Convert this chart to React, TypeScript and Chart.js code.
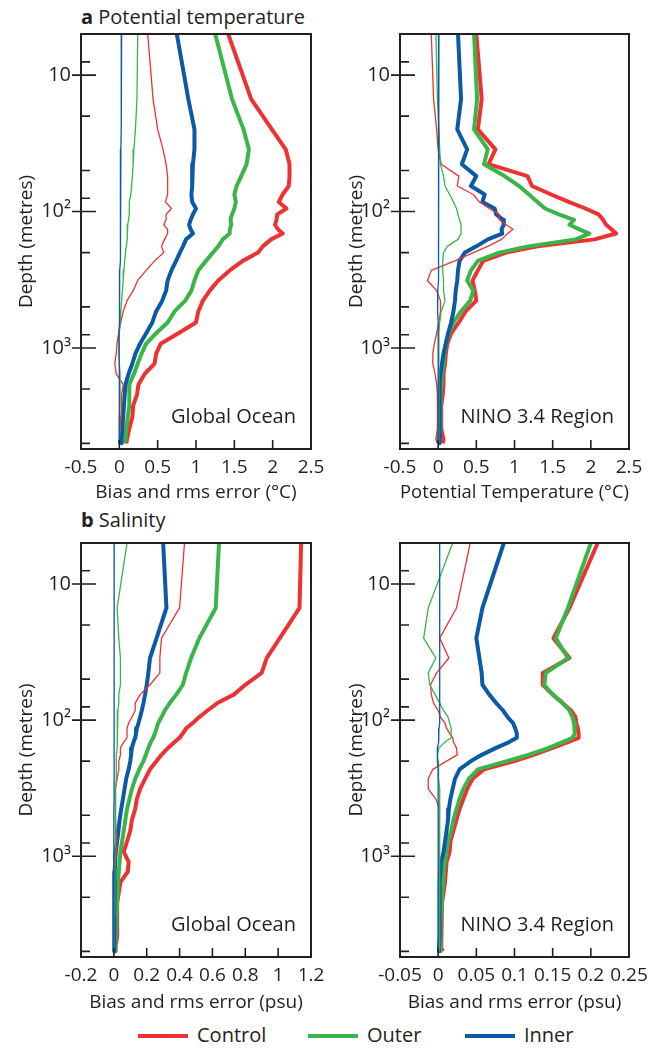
import React, { useEffect, useRef } from 'react';
import { Chart, registerables } from 'chart.js';

Chart.register(...registerables);

const FONT = '"Open Sans", "DejaVu Sans", sans-serif';
const INK = '#231f20';
const RED = '#ee3232';
const GREEN = '#3ab54a';
const BLUE = '#0b5aa6';

// Model depth levels (m) shared by every profile
const depths = [5, 15, 25, 35, 45, 55, 65, 75, 85, 95, 105, 115, 125, 135, 145, 160, 180, 200, 230, 270, 320, 380, 450, 540, 650, 780, 930, 1100, 1300, 1550, 1850, 2200, 2650, 3200, 3900, 4700, 5000];

// Depth axis ticks; only the decades carry a label
const depthTicks = [8, 10, 20, 50, 80, 100, 200, 500, 800, 1000, 2000, 5000];
const depthLabels: Record<number, string> = { 10: '10', 100: '10\u00b2', 1000: '10\u00b3' };

const tempTicks = [-0.5, 0, 0.5, 1, 1.5, 2, 2.5];
const salGlobalTicks = [-0.2, 0, 0.2, 0.4, 0.6, 0.8, 1, 1.2];
const salNinoTicks = [-0.05, 0, 0.05, 0.1, 0.15, 0.2, 0.25];

// (a) Potential temperature, global ocean (°C)
const tempGlobalControlBias = [0.37, 0.44, 0.50, 0.57, 0.61, 0.63, 0.63, 0.63, 0.60, 0.68, 0.61, 0.61, 0.58, 0.63, 0.63, 0.59, 0.55, 0.58, 0.46, 0.35, 0.24, 0.18, 0.10, 0.05, 0.02, -0.01, -0.03, -0.04, -0.06, -0.04, 0.05, 0.03, 0.03, 0.02, 0.01, 0.00, -0.01];
const tempGlobalControlRms = [1.42, 1.72, 1.99, 2.17, 2.22, 2.22, 2.21, 2.13, 2.08, 2.18, 2.06, 2.05, 2.03, 2.07, 2.13, 1.98, 1.87, 1.81, 1.61, 1.44, 1.29, 1.18, 1.09, 1.03, 1.00, 0.77, 0.54, 0.48, 0.46, 0.33, 0.25, 0.23, 0.18, 0.17, 0.13, 0.10, 0.09];
const tempGlobalOuterBias = [0.24, 0.23, 0.21, 0.19, 0.18, 0.17, 0.16, 0.15, 0.13, 0.13, 0.13, 0.12, 0.11, 0.11, 0.10, 0.10, 0.09, 0.08, 0.07, 0.06, 0.05, 0.04, 0.03, 0.02, 0.01, 0.00, 0.00, 0.00, 0.00, 0.01, 0.01, 0.01, 0.01, 0.00, 0.00, 0.00, 0.00];
const tempGlobalOuterRms = [1.25, 1.47, 1.62, 1.69, 1.66, 1.59, 1.53, 1.50, 1.52, 1.50, 1.47, 1.45, 1.46, 1.44, 1.44, 1.35, 1.29, 1.22, 1.13, 1.03, 0.98, 0.94, 0.86, 0.72, 0.63, 0.48, 0.35, 0.29, 0.24, 0.19, 0.13, 0.13, 0.13, 0.11, 0.09, 0.08, 0.06];
const tempGlobalInnerBias = [0.03, 0.025, 0.025, 0.02, 0.02, 0.02, 0.02, 0.02, 0.015, 0.015, 0.015, 0.015, 0.015, 0.01, 0.01, 0.01, 0.01, 0.01, 0.01, 0.005, 0.005, 0.005, 0.0, 0.0, 0.0, -0.005, -0.005, -0.005, 0.0, 0.0, 0.0, 0.0, 0.0, 0.0, 0.0, 0.0, 0.0];
const tempGlobalInnerRms = [0.75, 0.90, 0.98, 0.98, 0.96, 0.95, 0.95, 0.94, 0.95, 1.00, 0.96, 0.93, 0.91, 0.93, 0.96, 0.87, 0.83, 0.79, 0.74, 0.68, 0.63, 0.61, 0.56, 0.48, 0.43, 0.35, 0.27, 0.21, 0.17, 0.12, 0.08, 0.07, 0.06, 0.05, 0.04, 0.03, 0.03];

// (a) Potential temperature, NINO 3.4 region (°C)
const tempNinoControlBias = [-0.09, -0.06, -0.02, 0.00, 0.04, 0.27, 0.25, 0.46, 0.54, 0.67, 0.80, 0.80, 0.89, 0.98, 0.91, 0.83, 0.65, 0.46, 0.22, -0.09, -0.14, -0.02, 0.03, 0.03, 0.01, -0.02, -0.05, -0.07, -0.07, -0.04, -0.02, -0.01, -0.01, -0.01, -0.01, -0.03, -0.01];
const tempNinoControlRms = [0.50, 0.57, 0.52, 0.75, 0.66, 1.17, 1.23, 1.48, 1.71, 1.93, 2.10, 2.16, 2.20, 2.27, 2.33, 2.05, 1.30, 0.89, 0.59, 0.52, 0.45, 0.48, 0.50, 0.36, 0.27, 0.17, 0.12, 0.10, 0.09, 0.07, 0.07, 0.06, 0.04, 0.04, 0.04, 0.07, 0.06];
const tempNinoOuterBias = [-0.03, -0.01, 0.01, 0.02, 0.03, 0.07, 0.09, 0.15, 0.20, 0.24, 0.26, 0.28, 0.30, 0.30, 0.30, 0.26, 0.12, 0.07, 0.06, 0.06, 0.07, 0.07, 0.09, 0.04, 0.02, 0.01, 0.01, 0.01, 0.01, 0.01, 0.01, 0.01, 0.01, 0.01, 0.01, 0.00, 0.00];
const tempNinoOuterRms = [0.47, 0.51, 0.47, 0.65, 0.60, 0.87, 1.06, 1.19, 1.30, 1.40, 1.58, 1.78, 1.72, 1.85, 1.98, 1.80, 1.18, 0.80, 0.52, 0.43, 0.38, 0.46, 0.42, 0.30, 0.20, 0.14, 0.10, 0.08, 0.07, 0.05, 0.04, 0.03, 0.03, 0.03, 0.03, 0.00, 0.02];
const tempNinoInnerBias = [0.01, 0.01, 0.01, 0.01, 0.01, 0.008, 0.008, 0.006, 0.006, 0.005, 0.005, 0.004, 0.004, 0.003, 0.003, 0.002, 0.0, 0.0, 0.0, 0.0, 0.0, -0.005, -0.01, -0.005, 0.0, 0.0, 0.0, 0.0, 0.0, 0.0, 0.0, 0.0, 0.0, 0.0, 0.0, 0.0, 0.0];
const tempNinoInnerRms = [0.26, 0.30, 0.25, 0.38, 0.31, 0.50, 0.43, 0.61, 0.58, 0.74, 0.76, 0.85, 0.86, 0.83, 0.84, 0.65, 0.50, 0.35, 0.28, 0.26, 0.25, 0.23, 0.22, 0.20, 0.17, 0.13, 0.10, 0.07, 0.05, 0.03, 0.02, 0.02, 0.02, 0.02, 0.02, 0.02, 0.02];

// (b) Salinity, global ocean (psu)
const salGlobalControlBias = [0.43, 0.40, 0.29, 0.28, 0.28, 0.22, 0.16, 0.13, 0.13, 0.11, 0.09, 0.08, 0.08, 0.08, 0.06, 0.04, 0.04, 0.03, 0.03, 0.02, 0.01, 0.01, 0.01, 0.01, 0.015, 0.02, 0.015, 0.01, 0.005, 0.005, 0.005, 0.005, 0.005, 0.0, 0.0, 0.0, 0.0];
const salGlobalControlRms = [1.14, 1.13, 1.01, 0.93, 0.90, 0.80, 0.73, 0.63, 0.57, 0.52, 0.48, 0.44, 0.42, 0.40, 0.37, 0.33, 0.29, 0.26, 0.22, 0.19, 0.16, 0.14, 0.13, 0.11, 0.10, 0.08, 0.06, 0.09, 0.085, 0.04, 0.03, 0.02, 0.02, 0.02, 0.02, 0.01, 0.01];
const salGlobalOuterBias = [0.08, 0.02, 0.03, 0.04, 0.04, 0.04, 0.03, 0.03, 0.025, 0.025, 0.02, 0.02, 0.02, 0.02, 0.02, 0.02, 0.015, 0.015, 0.015, 0.015, 0.01, 0.01, 0.01, 0.01, 0.01, 0.01, 0.005, 0.005, 0.005, 0.005, 0.005, 0.005, 0.005, 0.0, 0.0, 0.0, 0.0];
const salGlobalOuterRms = [0.64, 0.62, 0.52, 0.47, 0.44, 0.42, 0.38, 0.34, 0.31, 0.29, 0.27, 0.26, 0.25, 0.24, 0.225, 0.21, 0.195, 0.18, 0.155, 0.13, 0.11, 0.095, 0.08, 0.07, 0.06, 0.05, 0.04, 0.035, 0.03, 0.025, 0.02, 0.02, 0.015, 0.015, 0.01, 0.01, 0.01];
const salGlobalInnerBias = [0.002, 0.002, 0.002, 0.002, 0.002, 0.002, 0.002, 0.002, 0.002, 0.002, 0.002, 0.002, 0.002, 0.002, 0.002, 0.001, 0.001, 0.001, 0.001, 0.001, 0.001, 0.001, 0.0, 0.0, 0.0, 0.0, 0.0, 0.0, 0.0, 0.0, 0.0, 0.0, 0.0, 0.0, 0.0, 0.0, 0.0];
const salGlobalInnerRms = [0.30, 0.32, 0.26, 0.22, 0.21, 0.20, 0.19, 0.18, 0.17, 0.16, 0.15, 0.14, 0.135, 0.13, 0.12, 0.11, 0.105, 0.10, 0.09, 0.075, 0.065, 0.055, 0.045, 0.035, 0.028, 0.02, 0.012, 0.008, 0.005, 0.004, 0.003, 0.003, 0.002, 0.002, 0.002, 0.001, 0.001];

// (b) Salinity, NINO 3.4 region (psu)
const salNinoControlBias = [0.042, 0.024, 0.002, 0.014, -0.002, -0.010, -0.009, -0.006, 0.000, 0.003, 0.009, 0.011, 0.015, 0.019, 0.020, 0.024, 0.025, 0.011, -0.007, -0.013, -0.013, -0.003, 0.002, 0.001, 0.001, 0.001, 0.001, 0.001, 0.001, 0.001, 0.001, 0.001, 0.001, 0.001, 0.001, 0.001, 0.001];
const salNinoControlRms = [0.209, 0.172, 0.151, 0.172, 0.137, 0.137, 0.150, 0.163, 0.174, 0.180, 0.181, 0.183, 0.184, 0.184, 0.170, 0.150, 0.125, 0.100, 0.060, 0.045, 0.038, 0.033, 0.028, 0.024, 0.020, 0.016, 0.015, 0.011, 0.010, 0.009, 0.007, 0.005, 0.004, 0.004, 0.004, 0.004, 0.006];
const salNinoOuterBias = [0.019, -0.013, -0.019, -0.003, -0.013, -0.011, -0.004, 0.002, 0.007, 0.013, 0.015, 0.017, 0.017, 0.017, 0.009, 0.001, -0.001, 0.000, 0.000, 0.001, 0.002, 0.002, 0.002, 0.002, 0.002, 0.002, 0.002, 0.002, 0.002, 0.002, 0.002, 0.002, 0.002, 0.002, 0.002, 0.002, 0.001];
const salNinoOuterRms = [0.200, 0.170, 0.154, 0.170, 0.141, 0.139, 0.150, 0.163, 0.172, 0.176, 0.178, 0.179, 0.179, 0.176, 0.163, 0.145, 0.118, 0.090, 0.052, 0.040, 0.033, 0.028, 0.024, 0.020, 0.017, 0.013, 0.011, 0.009, 0.007, 0.007, 0.005, 0.004, 0.004, 0.003, 0.003, 0.003, 0.003];
const salNinoInnerBias = [0.002, 0.002, 0.002, 0.002, 0.002, 0.002, 0.002, 0.002, 0.002, 0.002, 0.002, 0.001, 0.001, 0.001, 0.000, -0.001, -0.001, -0.001, 0.000, 0.000, 0.000, 0.000, 0.000, 0.000, 0.000, 0.000, 0.000, 0.000, 0.000, 0.000, 0.000, 0.000, 0.000, 0.000, 0.000, 0.000, 0.000];
const salNinoInnerRms = [0.086, 0.058, 0.050, 0.054, 0.057, 0.058, 0.067, 0.076, 0.085, 0.091, 0.098, 0.101, 0.103, 0.103, 0.093, 0.076, 0.057, 0.043, 0.028, 0.022, 0.019, 0.016, 0.014, 0.013, 0.011, 0.009, 0.007, 0.004, 0.003, 0.002, 0.002, 0.002, 0.002, 0.002, 0.002, 0.001, 0.001];

const legendItems = [
  { label: 'Control', color: RED },
  { label: 'Outer', color: GREEN },
  { label: 'Inner', color: BLUE },
];

type PanelProps = {
  left: number;
  top: number;
  width: number;
  height: number;
  plotLeft: number;
  plotRight: number;
  plotTop: number;
  plotBottom: number;
  xTicks: number[];
  xTitle: string;
  region: string;
  control: [number[], number[]];
  outer: [number[], number[]];
  inner: [number[], number[]];
};

const font = (size: number) => ({ family: FONT, size, weight: 'normal' as const });

// Box outline, inward/outward tick marks and the region caption
const framePlugin = {
  id: 'panelFrame',
  afterDatasetsDraw(chart: any, _args: any, opts: any) {
    const { ctx, chartArea: a } = chart;
    const xs = chart.scales.x;
    const ys = chart.scales.y;
    ctx.save();
    ctx.strokeStyle = INK;
    ctx.lineWidth = 1.6;
    ctx.beginPath();
    for (const t of ys.ticks) {
      const py = ys.getPixelForValue(t.value);
      const major = depthLabels[t.value] !== undefined;
      ctx.moveTo(a.left - (major ? 9 : 0), py);
      ctx.lineTo(a.left + (major ? 15 : 9), py);
    }
    for (const t of xs.ticks) {
      const px = xs.getPixelForValue(t.value);
      ctx.moveTo(px, a.bottom);
      ctx.lineTo(px, a.bottom - 9);
    }
    ctx.stroke();
    ctx.lineWidth = 2;
    ctx.strokeRect(a.left, a.top, a.right - a.left, a.bottom - a.top);
    if (opts && opts.region) {
      ctx.fillStyle = INK;
      ctx.font = `20px ${FONT}`;
      ctx.textAlign = 'right';
      ctx.textBaseline = 'alphabetic';
      ctx.fillText(opts.region, a.right - 15, a.bottom - 26);
    }
    ctx.restore();
  },
};

function profile(values: number[], color: string, width: number) {
  return {
    data: depths.map((d, i) => ({ x: values[i], y: d })),
    borderColor: color,
    backgroundColor: color,
    borderWidth: width,
    pointRadius: 0,
    pointHoverRadius: 0,
    tension: 0,
    fill: false,
    borderJoinStyle: 'round' as const,
  };
}

function ProfilePanel(p: PanelProps) {
  const ref = useRef<HTMLCanvasElement>(null);

  useEffect(() => {
    const canvas = ref.current;
    if (!canvas) return;
    const zeroPadding = (s: any) => {
      s.paddingTop = 0;
      s.paddingBottom = 0;
      s.paddingLeft = 0;
      s.paddingRight = 0;
    };
    const chart = new Chart(canvas, {
      type: 'line',
      data: {
        // first dataset is painted last (on top)
        datasets: [
          profile(p.inner[0], BLUE, 1.3),
          profile(p.outer[0], GREEN, 1.3),
          profile(p.control[0], RED, 1.3),
          profile(p.inner[1], BLUE, 4),
          profile(p.outer[1], GREEN, 4),
          profile(p.control[1], RED, 4),
        ],
      },
      options: {
        animation: false,
        responsive: false,
        maintainAspectRatio: false,
        indexAxis: 'y',
        events: [],
        layout: { padding: { top: p.plotTop, right: p.width - p.plotRight, left: 0, bottom: 0 } },
        plugins: {
          legend: { display: false },
          tooltip: { enabled: false },
          panelFrame: { region: p.region },
        } as any,
        scales: {
          x: {
            type: 'linear',
            position: 'bottom',
            min: p.xTicks[0],
            max: p.xTicks[p.xTicks.length - 1],
            afterBuildTicks: (s: any) => {
              s.ticks = p.xTicks.map((v) => ({ value: v }));
            },
            afterFit: (s: any) => {
              s.height = p.height - p.plotBottom;
              zeroPadding(s);
            },
            grid: { display: false, drawTicks: false },
            border: { display: false },
            ticks: {
              color: INK,
              font: font(19),
              padding: 7,
              maxRotation: 0,
              minRotation: 0,
              autoSkip: false,
              callback: (v: any) => String(v),
            },
            title: {
              display: true,
              text: p.xTitle,
              color: INK,
              font: font(19),
              padding: { top: 0, bottom: 6 },
            },
          },
          y: {
            type: 'logarithmic',
            position: 'left',
            reverse: true,
            min: 5,
            max: 5500,
            afterBuildTicks: (s: any) => {
              s.ticks = depthTicks.map((v) => ({ value: v }));
            },
            afterFit: (s: any) => {
              s.width = p.plotLeft;
              zeroPadding(s);
            },
            grid: { display: false, drawTicks: false },
            border: { display: false },
            ticks: {
              color: INK,
              font: font(20),
              padding: 10,
              autoSkip: false,
              callback: (v: any) => depthLabels[v as number] ?? '',
            },
            title: {
              display: true,
              text: 'Depth (metres)',
              color: INK,
              font: font(19),
              padding: { top: 15, bottom: 0 },
            },
          },
        },
      } as any,
      plugins: [framePlugin],
    });
    return () => chart.destroy();
  }, []);

  return (
    <canvas
      ref={ref}
      width={p.width}
      height={p.height}
      style={{ position: 'absolute', left: p.left, top: p.top, width: p.width, height: p.height }}
    />
  );
}

const titleStyle: React.CSSProperties = {
  position: 'absolute',
  fontFamily: FONT,
  fontSize: 20,
  lineHeight: '20px',
  color: INK,
  whiteSpace: 'nowrap',
};

export default function App() {
  return (
    <div
      style={{
        position: 'absolute',
        left: 0,
        top: 0,
        width: 664,
        height: 1048,
        background: '#ffffff',
        overflow: 'hidden',
        fontFamily: FONT,
        color: INK,
      }}
    >
      <div style={{ ...titleStyle, left: 81, top: 7 }}>
        <b>a</b> Potential temperature
      </div>
      <div style={{ ...titleStyle, left: 81, top: 510 }}>
        <b>b</b> Salinity
      </div>

      <ProfilePanel
        left={0} top={0} width={330} height={510}
        plotLeft={81} plotRight={311} plotTop={34} plotBottom={449}
        xTicks={tempTicks} xTitle={'Bias and rms error (\u00b0C)'} region="Global Ocean"
        control={[tempGlobalControlBias, tempGlobalControlRms]}
        outer={[tempGlobalOuterBias, tempGlobalOuterRms]}
        inner={[tempGlobalInnerBias, tempGlobalInnerRms]}
      />
      <ProfilePanel
        left={330} top={0} width={334} height={510}
        plotLeft={70} plotRight={299} plotTop={34} plotBottom={449}
        xTicks={tempTicks} xTitle={'Potential Temperature (\u00b0C)'} region="NINO 3.4 Region"
        control={[tempNinoControlBias, tempNinoControlRms]}
        outer={[tempNinoOuterBias, tempNinoOuterRms]}
        inner={[tempNinoInnerBias, tempNinoInnerRms]}
      />
      <ProfilePanel
        left={0} top={510} width={330} height={510}
        plotLeft={81} plotRight={311} plotTop={33} plotBottom={447}
        xTicks={salGlobalTicks} xTitle="Bias and rms error (psu)" region="Global Ocean"
        control={[salGlobalControlBias, salGlobalControlRms]}
        outer={[salGlobalOuterBias, salGlobalOuterRms]}
        inner={[salGlobalInnerBias, salGlobalInnerRms]}
      />
      <ProfilePanel
        left={330} top={510} width={334} height={510}
        plotLeft={70} plotRight={299} plotTop={33} plotBottom={447}
        xTicks={salNinoTicks} xTitle="Bias and rms error (psu)" region="NINO 3.4 Region"
        control={[salNinoControlBias, salNinoControlRms]}
        outer={[salNinoOuterBias, salNinoOuterRms]}
        inner={[salNinoInnerBias, salNinoInnerRms]}
      />

      {legendItems.map((item, i) => {
        const x = [138, 308, 465][i];
        return (
          <React.Fragment key={item.label}>
            <div style={{ position: 'absolute', left: x, top: 1034, width: 50, height: 4, background: item.color }} />
            <div style={{ ...titleStyle, fontSize: 20, lineHeight: '20px', left: x + 59, top: 1025 }}>{item.label}</div>
          </React.Fragment>
        );
      })}
    </div>
  );
}
